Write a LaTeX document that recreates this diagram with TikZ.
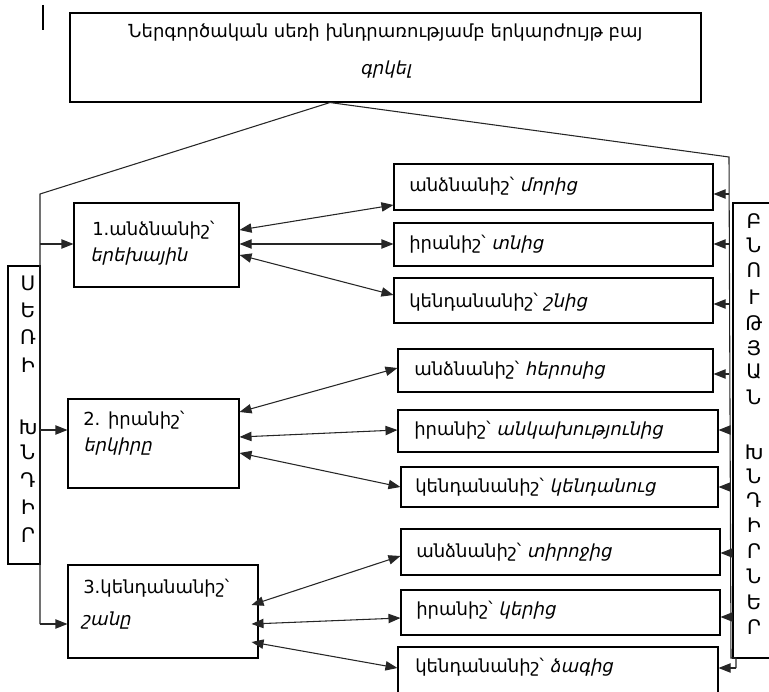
\documentclass[tikz,border=0pt]{standalone}
\usepackage{fontspec}
\setmainfont{DejaVu Sans}
\newfontfamily\itarm[FakeSlant=0.22]{DejaVu Sans}
\usetikzlibrary{arrows.meta,positioning,fit,calc}

\tikzset{
  rbox/.style={draw, line width=0.8pt, inner sep=0pt},
  txt/.style={anchor=west, inner sep=0pt, font=\fontsize{13.5}{16}\selectfont},
  ltr/.style={inner sep=0pt, font=\fontsize{13.5}{16}\selectfont},
  vltr/.style={inner sep=0pt, font=\fontsize{15}{17}\selectfont},
  link/.style={draw=black!85, line width=0.8pt},
  tip/.style={link, -{Triangle[length=9pt,width=7pt]}},
  dtip/.style={link, {Triangle[length=9pt,width=7pt]}-{Triangle[length=9pt,width=7pt]}}
}

\begin{document}
\begin{tikzpicture}[x=0.75pt,y=0.75pt,yscale=-1,xscale=1]
\clip (0,0) rectangle (769,692);

% cursor
\draw [line width=1.2pt] (43,5) -- (43,30);

%Shape: Rectangle (top)
\node[rbox, fit={(70,13) (701,102)}] (top) {};
% Text Node
\node[ltr] (toptxt1) at (385.5,33) {Ներգործական սեռի խնդրառությամբ երկարժույթ բայ};
% Text Node
\node[ltr] (toptxt2) at (385.5,70) {\itarm գրկել};

%Shape: Rectangle (side boxes)
\node[rbox, fit={(8,266) (40,564)}] (sbox) {};
\node[rbox, fit={(733,203) (780,658)}] (bbox) {};
\foreach \l/\y [count=\i] in {Ս/283,Ե/310,Ռ/337,Ի/365,Խ/427,Ն/452,Դ/480,Ի/507,Ր/535}
  \node[vltr] (sl\i) at (28,\y) {\l};
\foreach \l/\y [count=\i] in {Բ/221,Ն/245,Ո/270,Ւ/297,Թ/323,Յ/348,Ա/372,Ն/397,Խ/452,Ն/476,Դ/500,Ի/525,Ր/551,Ն/576,Ե/602,Ր/627}
  \node[vltr] (bl\i) at (754,\y) {\l};

%Shape: Rectangle (left column)
\node[rbox, fit={(74,203) (239,287)}] (b1) {};
\node[rbox, fit={(68,399) (239,488)}] (b2) {};
\node[rbox, fit={(68,565) (258,658)}] (b3) {};
% Text Node
\node[txt] (b1a) at (92,230) {1.անձնանիշ՝};
\node[txt] (b1b) at (90,257) {\itarm երեխային};
\node[txt] (b2a) at (83,420) {2. իրանիշ՝};
\node[txt] (b2b) at (83,447) {\itarm երկիրը};
\node[txt] (b3a) at (83,588) {3.կենդանանիշ՝};
\node[txt] (b3b) at (81,621) {\itarm շանը};

%Shape: Rectangle (right column)
\node[rbox, fit={(394,164) (713,210)}] (r1) {};
\node[rbox, fit={(394,223) (713,266)}] (r2) {};
\node[rbox, fit={(394,278) (713,323)}] (r3) {};
\node[rbox, fit={(398,349) (713,392)}] (r4) {};
\node[rbox, fit={(398,410) (718,452)}] (r5) {};
\node[rbox, fit={(401,467) (718,507)}] (r6) {};
\node[rbox, fit={(401,529) (720,575)}] (r7) {};
\node[rbox, fit={(401,590) (720,635)}] (r8) {};
\node[rbox, fit={(398,647) (718,700)}] (r9) {};
% Text Node
\node[txt] (r1t) at (409,186) {անձնանիշ՝ {\itarm մորից}};
\node[txt] (r2t) at (409,244) {իրանիշ՝ {\itarm տնից}};
\node[txt] (r3t) at (409,302) {կենդանանիշ՝ {\itarm շնից}};
\node[txt] (r4t) at (414,370) {անձնանիշ՝ {\itarm հերոսից}};
\node[txt] (r5t) at (414,430) {իրանիշ՝ {\itarm անկախությունից}};
\node[txt] (r6t) at (415,487) {կենդանանիշ՝ {\itarm կենդանուց}};
\node[txt] (r7t) at (416,552) {անձնանիշ՝ {\itarm տիրոջից}};
\node[txt] (r8t) at (416,610) {իրանիշ՝ {\itarm կերից}};
\node[txt] (r9t) at (415,667) {կենդանանիշ՝ {\itarm ձագից}};

% links from the top box
\coordinate (apex) at (top.south -| 330,0);
\coordinate (lk) at (40,194);
\coordinate (lb) at (40,624);
\coordinate (rk) at (729,157);
\coordinate (rb) at (731,658);
\coordinate (rj) at (736,668);
\draw[link] (apex) -- (lk) -- (lb);
\draw[link] (apex) -- (rk) -- (rb) -- (rj |- rb) -- (rj);
\draw[tip] (lk |- 0,244) -- (b1.west |- 0,244);
\draw[tip] (lk |- 0,430) -- (b2.west |- 0,430);
\draw[tip] (lb) -- (b3.west |- lb);
\foreach \n/\y in {r1/194,r2/244,r3/304,r4/374,r5/430,r6/487,r7/553,r8/617}
  \draw[tip] (rk |- 0,\y) -- (\n.east |- 0,\y);
\draw[tip] (rj) -- (r9.east |- rj);

% double arrows
\coordinate (b3in) at ($(b3.east)+(-7,0)$);
\draw[dtip] (b1.east |- 0,230) -- (r1.west |- 0,205);
\draw[dtip] (b1.east |- 0,244) -- (r2.west |- 0,244);
\draw[dtip] (b1.east |- 0,255) -- (r3.west |- 0,295);
\draw[dtip] (b2.east |- 0,412) -- (r4.west |- 0,368);
\draw[dtip] (b2.east |- 0,437) -- (r5.west |- 0,430);
\draw[dtip] (b2.east |- 0,453) -- (r6.west |- 0,487);
\draw[dtip] (b3in |- 0,605) -- (r7.west |- 0,556);
\draw[dtip] (b3in |- 0,624) -- (r8.west |- 0,618);
\draw[dtip] (b3in |- 0,642) -- (r9.west |- 0,668);

\end{tikzpicture}
\end{document}
